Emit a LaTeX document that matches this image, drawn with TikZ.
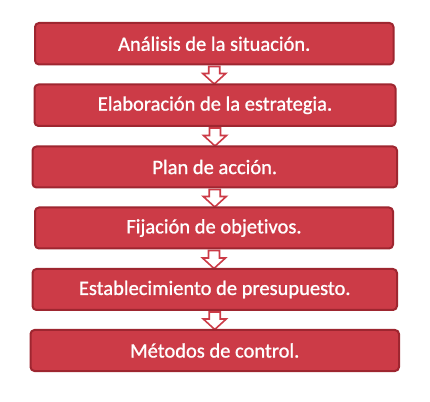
\documentclass[tikz,border=0pt]{standalone}
\usepackage{fontspec}
\setmainfont{Carlito}
\newfontfamily\stagefont[FakeBold=1.0,Ligatures=NoCommon]{Carlito}
\usetikzlibrary{calc,backgrounds}
\definecolor{boxfill}{RGB}{204,59,71}
\definecolor{boxline}{RGB}{158,38,48}
\tikzset{
  stage/.style={draw=boxline, fill=boxfill, line width=2pt, rounded corners=4pt,
    text=white, font=\stagefont\fontsize{20.5}{24}\selectfont, inner sep=0pt, anchor=center},
  blockarrow/.style={draw=boxfill, fill=white, line width=1.6pt, line join=miter}
}
\begin{document}
\begin{tikzpicture}[x=1pt,y=1pt]
\useasboundingbox (0,0) rectangle (430,401);
\node[stage, minimum width=358.5pt, minimum height=41.5pt] (b1) at (214.25,357.25) {Análisis de la situación.};
\node[stage, minimum width=361pt, minimum height=41.5pt] (b2) at (215,295.75) {Elaboración de la estrategia.};
\node[stage, minimum width=364.5pt, minimum height=41pt] (b3) at (214.75,234) {Plan de acción.};
\node[stage, minimum width=358pt, minimum height=41pt] (b4) at (214,173) {Fijación de objetivos.};
\node[stage, minimum width=364.5pt, minimum height=41pt] (b5) at (214.75,111.5) {Establecimiento de presupuesto.};
\node[stage, minimum width=368.5pt, minimum height=41pt] (b6) at (214.75,50.5) {Métodos de control.};
\begin{scope}[on background layer]
\foreach \a/\b in {b1/b2,b2/b3,b3/b4,b4/b5,b5/b6}{
  \coordinate (top) at ($(\a.south)+(0,-1pt)$);
  \coordinate (tip) at (top |- \b.north);
  \draw[blockarrow] ($(top)+(-5.5,0)$) -- ($(top)+(5.5,0)$) -- ($(tip)+(5.5,10)$)
    -- ($(tip)+(11.5,10)$) -- ($(tip)+(0,-0.5)$) -- ($(tip)+(-11.5,10)$)
    -- ($(tip)+(-5.5,10)$) -- cycle;
}
\end{scope}
\end{tikzpicture}
\end{document}
